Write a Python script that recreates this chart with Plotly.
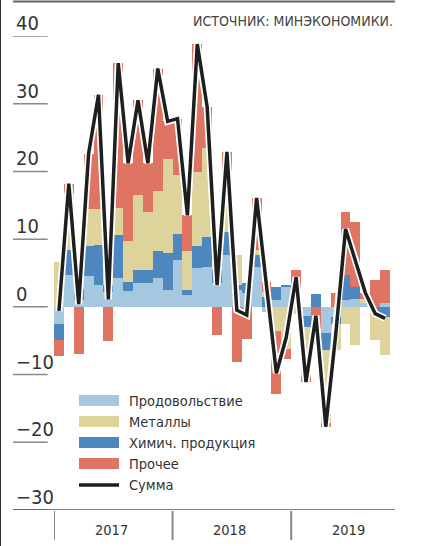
import plotly.graph_objects as go

# ---- data (monthly contributions, Jan 2017 - Oct 2019) ----
months = [f"{y}-{m:02d}" for y in (2017, 2018, 2019) for m in range(1, 13)][:34]

food = [-2.6, 4.7, 1.0, 4.5, 3.3, 2.2, 4.3, 2.4, 3.5, 3.5, 4.2, 2.5,
        6.9, 1.8, 5.8, 5.9, 3.5, 7.6, 2.5, 2.0, 5.9, -0.7, 1.0, 2.9,
        3.0, -1.4, 0.0, -3.9, -1.5, 1.0, 1.2, 0.6, 0.0, 0.5]
chem = [-2.3, 3.7, 1.6, 4.5, 5.9, 1.0, 6.3, 1.3, 1.9, 1.9, 4.1, 5.5,
        3.9, 0.7, 3.2, 4.4, 2.0, 3.5, 0.7, 1.5, 1.8, 1.5, 2.0, 0.3,
        0.2, -1.6, 1.9, -2.5, -1.0, 3.7, 1.7, 0.0, -0.7, -1.5]
metals = [6.6, 8.4, 4.8, 5.5, 5.3, 2.9, 4.0, 6.0, 11.1, 8.6, 8.8, 13.8,
          8.6, 5.8, 10.9, 13.2, 1.9, 9.1, 4.4, 0.0, 0.7, 0.7, -3.6, -6.2,
          -1.1, -7.4, 0.0, -10.8, -3.8, -2.5, -5.6, 0.5, -4.2, -5.6]
other = [-2.3, 1.4, -7.0, 8.1, 16.8, -5.0, 21.4, 11.5, 14.0, 7.2, 18.1, 5.6,
         8.4, 5.2, 18.9, 6.0, -4.2, 2.7, -8.1, -4.7, 7.7, 1.5, -9.2, -1.5,
         2.3, -0.7, -3.2, -0.5, 2.1, 9.3, 9.6, 1.0, 3.9, 4.9]
total = [-0.6, 18.2, 0.4, 22.6, 31.3, 1.1, 36.0, 21.2, 30.5, 21.2, 35.2, 27.4,
         27.8, 13.5, 38.8, 29.5, 3.2, 22.9, -0.5, -1.2, 16.1, 3.0, -9.8, -4.5,
         4.4, -11.1, -1.3, -17.7, -4.2, 11.5, 6.9, 2.1, -1.0, -1.7]

series_names = ["Продовольствие", "Металлы", "Химич. продукция", "Прочее", "Сумма"]
y_ticks = [40, 30, 20, 10, 0, -10, -20, -30]
y_tick_labels = ["40", "30", "20", "10", "0", "−10", "−20", "−30"]
years = ["2017", "2018", "2019"]
year_centers = [5.3, 17.3, 29.3]
year_dividers = [-0.5, 11.5, 23.5]
source_text = "ИСТОЧНИК: МИНЭКОНОМИКИ."

# ---- styles ----
C_FOOD = "#a6c7e0"
C_MET = "#ded39b"
C_CHEM = "#4e86be"
C_OTH = "#e07462"
C_SUM = "#1e1e1e"
FONT = "DejaVu Sans Condensed, Liberation Sans Narrow, sans-serif"
TXT = "#333333"

W, H = 422, 546
ML, MR, MT, MB = 54, 32, 36, 36
PW, PH = W - ML - MR, H - MT - MB


def px(x):
    return (x - ML) / PW


def py(y):
    return (H - MB - y) / PH


fig = go.Figure()
for vals, col, nm in [(food, C_FOOD, series_names[0]), (chem, C_CHEM, series_names[2]),
                      (metals, C_MET, series_names[1]), (other, C_OTH, series_names[3])]:
    fig.add_trace(go.Bar(x=months, y=vals, name=nm, marker=dict(color=col, line=dict(width=0)),
                         showlegend=False))
fig.add_trace(go.Scatter(x=months, y=total, mode="lines", line=dict(color="white", width=7),
                         showlegend=False, hoverinfo="skip"))
fig.add_trace(go.Scatter(x=months, y=total, mode="lines", name=series_names[4],
                         line=dict(color=C_SUM, width=3.5), showlegend=False))

shapes = []
annotations = []
# y tick segments and labels
for v, lab in zip(y_ticks, y_tick_labels):
    shapes.append(dict(type="line", xref="paper", yref="y", x0=px(13), x1=px(47.7), y0=v, y1=v,
                       line=dict(color="#888888", width=1.5)))
    annotations.append(dict(xref="paper", yref="y", x=px(14), y=v, text=lab, showarrow=False,
                            xanchor="left", yanchor="bottom", yshift=-1,
                            font=dict(family=FONT, size=20, color=TXT)))
# bottom axis line
shapes.append(dict(type="line", xref="paper", yref="y", x0=px(13), x1=px(395), y0=-30, y1=-30,
                   line=dict(color="#555555", width=1.5)))
# top rule
shapes.append(dict(type="line", xref="paper", yref="paper", x0=px(13), x1=px(395), y0=py(1.5), y1=py(1.5),
                   line=dict(color="#666666", width=2)))
# left border
shapes.append(dict(type="line", xref="paper", yref="paper", x0=px(0.5), x1=px(0.5), y0=py(546), y1=py(0),
                   line=dict(color="#333333", width=1)))
# year dividers
for d in year_dividers:
    shapes.append(dict(type="line", xref="x", yref="paper", x0=d, x1=d, y0=py(511), y1=py(540),
                       line=dict(color="#888888", width=2)))
for yr, c in zip(years, year_centers):
    annotations.append(dict(xref="x", yref="paper", x=c, y=py(530), text=yr, showarrow=False,
                            xanchor="center", yanchor="middle",
                            font=dict(family=FONT, size=14.5, color=TXT)))
# source
annotations.append(dict(xref="paper", yref="paper", x=px(395), y=py(21.5), text=source_text,
                        showarrow=False, xanchor="right", yanchor="middle",
                        font=dict(family=FONT, size=14, color="#444444")))
# manual legend
rows = [400.5, 421.5, 442.5, 463.5, 485]
cols = [C_FOOD, C_MET, C_CHEM, C_OTH, C_SUM]
for i, (nm, r, c) in enumerate(zip(series_names, rows, cols)):
    if i < 4:
        shapes.append(dict(type="rect", xref="paper", yref="paper", x0=px(79), x1=px(119),
                           y0=py(r + 5.5), y1=py(r - 5.5), fillcolor=c, line=dict(width=0)))
    else:
        shapes.append(dict(type="line", xref="paper", yref="paper", x0=px(79), x1=px(119),
                           y0=py(r), y1=py(r), line=dict(color=c, width=3.5)))
    annotations.append(dict(xref="paper", yref="paper", x=px(127), y=py(r), text=nm, showarrow=False,
                            xanchor="left", yanchor="middle",
                            font=dict(family=FONT, size=14.5, color=TXT)))

fig.update_layout(
    width=W, height=H, margin=dict(l=ML, r=MR, t=MT, b=MB),
    paper_bgcolor="white", plot_bgcolor="white",
    barmode="relative", bargap=0,
    xaxis=dict(type="category", range=[-0.5, 33.5], visible=False, fixedrange=True),
    yaxis=dict(range=[-30, 40], visible=False, fixedrange=True),
    shapes=shapes, annotations=annotations, showlegend=False,
    font=dict(family=FONT),
)
fig.write_html("out.html", config={"displayModeBar": False, "staticPlot": True},
               post_script="document.body.style.margin='0';document.body.style.overflow='hidden';")
